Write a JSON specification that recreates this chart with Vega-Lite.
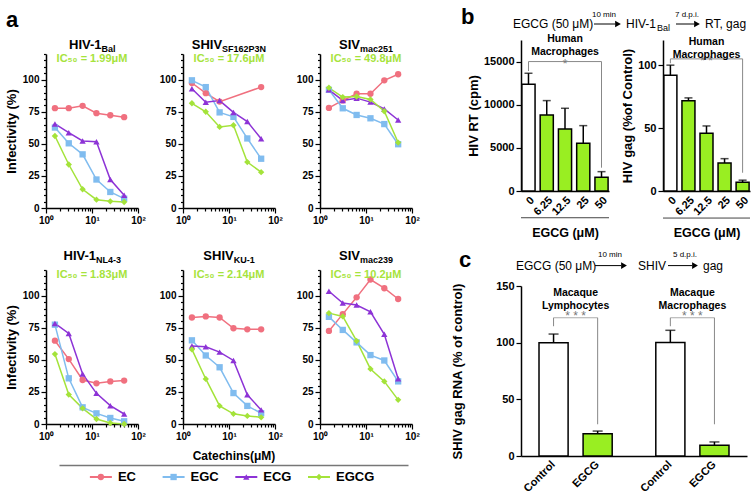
{
"$schema":"https://vega.github.io/schema/vega-lite/v6.json",
"padding":{"left":5,"top":5,"right":1,"bottom":2},
"background":"white",
"config":{
 "font":"Liberation Sans",
 "view":{"stroke":null},
 "axis":{"grid":false,"domainColor":"#000","tickColor":"#000","labelColor":"#000","titleColor":"#000","labelFontWeight":"bold","titleFontWeight":"bold","labelFontSize":10,"titleFontSize":13,"domainWidth":1.5,"tickWidth":1.2,"labelFlush":false,"labelOverlap":false,"titlePadding":4,"labelPadding":2},
 "title":{"font":"Liberation Sans","color":"#000"}
},
"datasets":{
 "curves":[
  {"virus":"HIV-1Bal","catechin":"EC","conc":1.5625,"inf":77.8},{"virus":"HIV-1Bal","catechin":"EC","conc":3.125,"inf":77.8},{"virus":"HIV-1Bal","catechin":"EC","conc":6.25,"inf":79.6},{"virus":"HIV-1Bal","catechin":"EC","conc":12.5,"inf":73.9},{"virus":"HIV-1Bal","catechin":"EC","conc":25,"inf":72.3},{"virus":"HIV-1Bal","catechin":"EC","conc":50,"inf":70.8},
  {"virus":"HIV-1Bal","catechin":"EGC","conc":1.5625,"inf":62.7},{"virus":"HIV-1Bal","catechin":"EGC","conc":3.125,"inf":50.4},{"virus":"HIV-1Bal","catechin":"EGC","conc":6.25,"inf":41.8},{"virus":"HIV-1Bal","catechin":"EGC","conc":12.5,"inf":22.2},{"virus":"HIV-1Bal","catechin":"EGC","conc":25,"inf":12.5},{"virus":"HIV-1Bal","catechin":"EGC","conc":50,"inf":7.3},
  {"virus":"HIV-1Bal","catechin":"ECG","conc":1.5625,"inf":65.5},{"virus":"HIV-1Bal","catechin":"ECG","conc":3.125,"inf":58.7},{"virus":"HIV-1Bal","catechin":"ECG","conc":6.25,"inf":52.2},{"virus":"HIV-1Bal","catechin":"ECG","conc":12.5,"inf":51.7},{"virus":"HIV-1Bal","catechin":"ECG","conc":25,"inf":22.2},{"virus":"HIV-1Bal","catechin":"ECG","conc":50,"inf":9.9},
  {"virus":"HIV-1Bal","catechin":"EGCG","conc":1.5625,"inf":56.1},{"virus":"HIV-1Bal","catechin":"EGCG","conc":3.125,"inf":33.9},{"virus":"HIV-1Bal","catechin":"EGCG","conc":6.25,"inf":14.6},{"virus":"HIV-1Bal","catechin":"EGCG","conc":12.5,"inf":6.5},{"virus":"HIV-1Bal","catechin":"EGCG","conc":25,"inf":5.2},{"virus":"HIV-1Bal","catechin":"EGCG","conc":50,"inf":4.7},
  {"virus":"SHIV-SF162P3N","catechin":"EC","conc":1.5625,"inf":97.4},{"virus":"SHIV-SF162P3N","catechin":"EC","conc":3.125,"inf":89.5},{"virus":"SHIV-SF162P3N","catechin":"EC","conc":6.25,"inf":82.9},{"virus":"SHIV-SF162P3N","catechin":"EC","conc":50,"inf":94.2},
  {"virus":"SHIV-SF162P3N","catechin":"EGC","conc":1.5625,"inf":99.5},{"virus":"SHIV-SF162P3N","catechin":"EGC","conc":3.125,"inf":94.2},{"virus":"SHIV-SF162P3N","catechin":"EGC","conc":6.25,"inf":74.5},{"virus":"SHIV-SF162P3N","catechin":"EGC","conc":12.5,"inf":71},{"virus":"SHIV-SF162P3N","catechin":"EGC","conc":25,"inf":54.2},{"virus":"SHIV-SF162P3N","catechin":"EGC","conc":50,"inf":38.4},
  {"virus":"SHIV-SF162P3N","catechin":"ECG","conc":1.5625,"inf":92.9},{"virus":"SHIV-SF162P3N","catechin":"ECG","conc":3.125,"inf":82.4},{"virus":"SHIV-SF162P3N","catechin":"ECG","conc":6.25,"inf":83.7},{"virus":"SHIV-SF162P3N","catechin":"ECG","conc":12.5,"inf":74.5},{"virus":"SHIV-SF162P3N","catechin":"ECG","conc":25,"inf":67.4},{"virus":"SHIV-SF162P3N","catechin":"ECG","conc":50,"inf":53.9},
  {"virus":"SHIV-SF162P3N","catechin":"EGCG","conc":1.5625,"inf":81.6},{"virus":"SHIV-SF162P3N","catechin":"EGCG","conc":3.125,"inf":75},{"virus":"SHIV-SF162P3N","catechin":"EGCG","conc":6.25,"inf":63.2},{"virus":"SHIV-SF162P3N","catechin":"EGCG","conc":12.5,"inf":64.5},{"virus":"SHIV-SF162P3N","catechin":"EGCG","conc":25,"inf":35.8},{"virus":"SHIV-SF162P3N","catechin":"EGCG","conc":50,"inf":27.9},
  {"virus":"SIVmac251","catechin":"EC","conc":1.5625,"inf":78},{"virus":"SIVmac251","catechin":"EC","conc":3.125,"inf":83.8},{"virus":"SIVmac251","catechin":"EC","conc":6.25,"inf":89},{"virus":"SIVmac251","catechin":"EC","conc":12.5,"inf":89},{"virus":"SIVmac251","catechin":"EC","conc":25,"inf":99.5},{"virus":"SIVmac251","catechin":"EC","conc":50,"inf":104.2},
  {"virus":"SIVmac251","catechin":"EGC","conc":1.5625,"inf":92.1},{"virus":"SIVmac251","catechin":"EGC","conc":3.125,"inf":77.7},{"virus":"SIVmac251","catechin":"EGC","conc":6.25,"inf":72.5},{"virus":"SIVmac251","catechin":"EGC","conc":12.5,"inf":69.9},{"virus":"SIVmac251","catechin":"EGC","conc":25,"inf":65.4},{"virus":"SIVmac251","catechin":"EGC","conc":50,"inf":49.7},
  {"virus":"SIVmac251","catechin":"ECG","conc":1.5625,"inf":92.1},{"virus":"SIVmac251","catechin":"ECG","conc":3.125,"inf":83.8},{"virus":"SIVmac251","catechin":"ECG","conc":6.25,"inf":85.6},{"virus":"SIVmac251","catechin":"ECG","conc":12.5,"inf":82.5},{"virus":"SIVmac251","catechin":"ECG","conc":25,"inf":77.2},{"virus":"SIVmac251","catechin":"ECG","conc":50,"inf":68.6},
  {"virus":"SIVmac251","catechin":"EGCG","conc":1.5625,"inf":93.7},{"virus":"SIVmac251","catechin":"EGCG","conc":3.125,"inf":86.4},{"virus":"SIVmac251","catechin":"EGCG","conc":6.25,"inf":86.9},{"virus":"SIVmac251","catechin":"EGCG","conc":12.5,"inf":84.6},{"virus":"SIVmac251","catechin":"EGCG","conc":25,"inf":75.4},{"virus":"SIVmac251","catechin":"EGCG","conc":50,"inf":51},
  {"virus":"HIV-1NL4-3","catechin":"EC","conc":1.5625,"inf":64.9},{"virus":"HIV-1NL4-3","catechin":"EC","conc":3.125,"inf":50.6},{"virus":"HIV-1NL4-3","catechin":"EC","conc":6.25,"inf":34.3},{"virus":"HIV-1NL4-3","catechin":"EC","conc":12.5,"inf":31.7},{"virus":"HIV-1NL4-3","catechin":"EC","conc":25,"inf":33.2},{"virus":"HIV-1NL4-3","catechin":"EC","conc":50,"inf":33.8},
  {"virus":"HIV-1NL4-3","catechin":"EGC","conc":1.5625,"inf":77.4},{"virus":"HIV-1NL4-3","catechin":"EGC","conc":3.125,"inf":35.6},{"virus":"HIV-1NL4-3","catechin":"EGC","conc":6.25,"inf":13},{"virus":"HIV-1NL4-3","catechin":"EGC","conc":12.5,"inf":8.3},{"virus":"HIV-1NL4-3","catechin":"EGC","conc":25,"inf":4.7},{"virus":"HIV-1NL4-3","catechin":"EGC","conc":50,"inf":2.1},
  {"virus":"HIV-1NL4-3","catechin":"ECG","conc":1.5625,"inf":78.4},{"virus":"HIV-1NL4-3","catechin":"ECG","conc":3.125,"inf":70.6},{"virus":"HIV-1NL4-3","catechin":"ECG","conc":6.25,"inf":39},{"virus":"HIV-1NL4-3","catechin":"ECG","conc":12.5,"inf":23.9},{"virus":"HIV-1NL4-3","catechin":"ECG","conc":25,"inf":14.3},{"virus":"HIV-1NL4-3","catechin":"ECG","conc":50,"inf":7.8},
  {"virus":"HIV-1NL4-3","catechin":"EGCG","conc":1.5625,"inf":54.5},{"virus":"HIV-1NL4-3","catechin":"EGCG","conc":3.125,"inf":22.9},{"virus":"HIV-1NL4-3","catechin":"EGCG","conc":6.25,"inf":12.2},{"virus":"HIV-1NL4-3","catechin":"EGCG","conc":12.5,"inf":3.9},{"virus":"HIV-1NL4-3","catechin":"EGCG","conc":25,"inf":0.8},{"virus":"HIV-1NL4-3","catechin":"EGCG","conc":50,"inf":0},
  {"virus":"SHIV-KU-1","catechin":"EC","conc":1.5625,"inf":83},{"virus":"SHIV-KU-1","catechin":"EC","conc":3.125,"inf":83.8},{"virus":"SHIV-KU-1","catechin":"EC","conc":6.25,"inf":83},{"virus":"SHIV-KU-1","catechin":"EC","conc":12.5,"inf":74.6},{"virus":"SHIV-KU-1","catechin":"EC","conc":25,"inf":73.8},{"virus":"SHIV-KU-1","catechin":"EC","conc":50,"inf":73.8},
  {"virus":"SHIV-KU-1","catechin":"EGC","conc":1.5625,"inf":65.2},{"virus":"SHIV-KU-1","catechin":"EGC","conc":3.125,"inf":53.4},{"virus":"SHIV-KU-1","catechin":"EGC","conc":6.25,"inf":44.2},{"virus":"SHIV-KU-1","catechin":"EGC","conc":12.5,"inf":24.1},{"virus":"SHIV-KU-1","catechin":"EGC","conc":25,"inf":14.1},{"virus":"SHIV-KU-1","catechin":"EGC","conc":50,"inf":8.4},
  {"virus":"SHIV-KU-1","catechin":"ECG","conc":1.5625,"inf":60.7},{"virus":"SHIV-KU-1","catechin":"ECG","conc":3.125,"inf":60.2},{"virus":"SHIV-KU-1","catechin":"ECG","conc":6.25,"inf":56},{"virus":"SHIV-KU-1","catechin":"ECG","conc":12.5,"inf":49.5},{"virus":"SHIV-KU-1","catechin":"ECG","conc":25,"inf":22.8},{"virus":"SHIV-KU-1","catechin":"ECG","conc":50,"inf":11},
  {"virus":"SHIV-KU-1","catechin":"EGCG","conc":1.5625,"inf":58.1},{"virus":"SHIV-KU-1","catechin":"EGCG","conc":3.125,"inf":35.1},{"virus":"SHIV-KU-1","catechin":"EGCG","conc":6.25,"inf":14.1},{"virus":"SHIV-KU-1","catechin":"EGCG","conc":12.5,"inf":7.9},{"virus":"SHIV-KU-1","catechin":"EGCG","conc":25,"inf":6.3},{"virus":"SHIV-KU-1","catechin":"EGCG","conc":50,"inf":5.2},
  {"virus":"SIVmac239","catechin":"EC","conc":1.5625,"inf":72.5},{"virus":"SIVmac239","catechin":"EC","conc":3.125,"inf":85.6},{"virus":"SIVmac239","catechin":"EC","conc":6.25,"inf":98.7},{"virus":"SIVmac239","catechin":"EC","conc":12.5,"inf":112.6},{"virus":"SIVmac239","catechin":"EC","conc":25,"inf":105.8},{"virus":"SIVmac239","catechin":"EC","conc":50,"inf":97.4},
  {"virus":"SIVmac239","catechin":"EGC","conc":1.5625,"inf":83.5},{"virus":"SIVmac239","catechin":"EGC","conc":3.125,"inf":73.3},{"virus":"SIVmac239","catechin":"EGC","conc":6.25,"inf":63.6},{"virus":"SIVmac239","catechin":"EGC","conc":12.5,"inf":53.7},{"virus":"SIVmac239","catechin":"EGC","conc":25,"inf":49.5},{"virus":"SIVmac239","catechin":"EGC","conc":50,"inf":33.2},
  {"virus":"SIVmac239","catechin":"ECG","conc":1.5625,"inf":103.4},{"virus":"SIVmac239","catechin":"ECG","conc":3.125,"inf":94.2},{"virus":"SIVmac239","catechin":"ECG","conc":6.25,"inf":92.7},{"virus":"SIVmac239","catechin":"ECG","conc":12.5,"inf":87.4},{"virus":"SIVmac239","catechin":"ECG","conc":25,"inf":69.9},{"virus":"SIVmac239","catechin":"ECG","conc":50,"inf":35.3},
  {"virus":"SIVmac239","catechin":"EGCG","conc":1.5625,"inf":86.4},{"virus":"SIVmac239","catechin":"EGCG","conc":3.125,"inf":83.8},{"virus":"SIVmac239","catechin":"EGCG","conc":6.25,"inf":64.7},{"virus":"SIVmac239","catechin":"EGCG","conc":12.5,"inf":42.9},{"virus":"SIVmac239","catechin":"EGCG","conc":25,"inf":33.2},{"virus":"SIVmac239","catechin":"EGCG","conc":50,"inf":18.8}
 ],
 "legend":[{"catechin":"EC"},{"catechin":"EGC"},{"catechin":"ECG"},{"catechin":"EGCG"}],
 "rt":[{"dose":"0","mean":12370,"upper":13645},{"dose":"6.25","mean":8813,"upper":10476},{"dose":"12.5","mean":7190,"upper":9586},{"dose":"25","mean":5528,"upper":7576},{"dose":"50","mean":1585,"upper":2242}],
 "gag":[{"dose":"0","mean":92,"upper":100},{"dose":"6.25","mean":71.8,"upper":74},{"dose":"12.5","mean":45.8,"upper":51.7},{"dose":"25","mean":22.3,"upper":25.7},{"dose":"50","mean":7,"upper":8.6}],
 "shiv":[{"group":"Lymphocytes","treatment":"Control","mean":100,"upper":107.6},{"group":"Lymphocytes","treatment":"EGCG","mean":19.7,"upper":22},{"group":"Macrophages","treatment":"Control","mean":100.2,"upper":110.9},{"group":"Macrophages","treatment":"EGCG","mean":9.4,"upper":12.4}]
},
"spacing":31,
"hconcat":[
 {
  "spacing":8,
  "vconcat":[
   {"spacing":8,"vconcat":[
    {"width":20,"height":22,"data":{"values":[{}]},"mark":{"type":"text","fontSize":22,"fontWeight":"bold","align":"center","baseline":"middle","color":"#000"},
     "encoding":{"x":{"datum":-34,"type":"quantitative","scale":{"domain":[0,20],"nice":false,"zero":false},"axis":null},"y":{"datum":0.5,"type":"quantitative","scale":{"domain":[0,1],"nice":false},"axis":null},"text":{"value":"a"}}},
    {"spacing":24,"vconcat":[
    {"spacing":13,"hconcat":[
     {"width":92,"height":154,"resolve":{"scale":{"y":"independent"},"axis":{"y":"independent"}},
      "layer":[
       {"data":{"name":"curves"},"transform":[{"filter":"datum.virus=='HIV-1Bal'"}],"mark":{"type":"line","strokeWidth":1.5},"encoding":{
        "x":{"field":"conc","type":"quantitative","title":null,"scale":{"type":"log","domain":[1,100],"nice":false},"axis":{"values":[1,2,3,4,5,6,7,8,9,10,20,30,40,50,60,70,80,90,100],"labelOverlap":false,"labelExpr":"datum.value==1?'10⁰':(datum.value==10?'10¹':(datum.value==100?'10²':''))","tickSize":{"condition":{"test":"datum.value==1||datum.value==10||datum.value==100","value":5},"value":3}}},
        "y":{"field":"inf","type":"quantitative","title":"Infectivity (%)","scale":{"domain":[0,120],"nice":false},"axis":{"values":[0,5,10,15,20,25,30,35,40,45,50,55,60,65,70,75,80,85,90,95,100,105,110,115,120],"labelOverlap":false,"labelExpr":"datum.value%25==0&&datum.value<=100?datum.label:''","tickSize":{"condition":{"test":"datum.value%25==0","value":5},"value":2.5}}},
        "color":{"field":"catechin","type":"nominal","scale":{"domain":["EC","EGC","ECG","EGCG"],"range":["#f0707f","#80bcef","#8d33d6","#a4e33a"]},"legend":null}}},
       {"data":{"name":"curves"},"transform":[{"filter":"datum.virus=='HIV-1Bal'"}],"mark":{"type":"point","filled":true,"size":40,"opacity":1},"encoding":{"x":{"field":"conc","type":"quantitative","title":null},"y":{"field":"inf","type":"quantitative","scale":{"domain":[0,120],"nice":false},"axis":null},"color":{"field":"catechin","type":"nominal","legend":null},"shape":{"field":"catechin","type":"nominal","scale":{"domain":["EC","EGC","ECG","EGCG"],"range":["circle","square","triangle-up","diamond"]},"legend":null}}},
       {"data":{"values":[{}]},"mark":{"type":"text","fontSize":13,"fontWeight":"bold","align":"right","baseline":"middle","dx":9.6,"color":"#000"},"encoding":{"x":{"datum":10},"y":{"datum":127,"type":"quantitative","scale":{"domain":[0,120],"nice":false},"axis":null},"text":{"value":"HIV-1"}}},
       {"data":{"values":[{}]},"mark":{"type":"text","fontSize":9,"fontWeight":"bold","align":"left","baseline":"middle","dx":9.6,"dy":4,"color":"#000"},"encoding":{"x":{"datum":10},"y":{"datum":127,"type":"quantitative","scale":{"domain":[0,120],"nice":false},"axis":null},"text":{"value":"Bal"}}},
       {"data":{"values":[{}]},"mark":{"type":"text","fontSize":11,"fontWeight":"bold","align":"center","baseline":"middle","color":"#a6e33c"},"encoding":{"x":{"datum":10},"y":{"datum":116,"type":"quantitative","scale":{"domain":[0,120],"nice":false},"axis":null},"text":{"value":"IC₅₀ = 1.99μM"}}}
      ]},
     {"width":92,"height":154,"resolve":{"scale":{"y":"independent"},"axis":{"y":"independent"}},
      "layer":[
       {"data":{"name":"curves"},"transform":[{"filter":"datum.virus=='SHIV-SF162P3N'"}],"mark":{"type":"line","strokeWidth":1.5},"encoding":{
        "x":{"field":"conc","type":"quantitative","title":null,"scale":{"type":"log","domain":[1,100],"nice":false},"axis":{"values":[1,2,3,4,5,6,7,8,9,10,20,30,40,50,60,70,80,90,100],"labelOverlap":false,"labelExpr":"datum.value==1?'10⁰':(datum.value==10?'10¹':(datum.value==100?'10²':''))","tickSize":{"condition":{"test":"datum.value==1||datum.value==10||datum.value==100","value":5},"value":3}}},
        "y":{"field":"inf","type":"quantitative","title":null,"scale":{"domain":[0,120],"nice":false},"axis":{"values":[0,5,10,15,20,25,30,35,40,45,50,55,60,65,70,75,80,85,90,95,100,105,110,115,120],"labelOverlap":false,"labelExpr":"datum.value%25==0&&datum.value<=100?datum.label:''","tickSize":{"condition":{"test":"datum.value%25==0","value":5},"value":2.5}}},
        "color":{"field":"catechin","type":"nominal","scale":{"domain":["EC","EGC","ECG","EGCG"],"range":["#f0707f","#80bcef","#8d33d6","#a4e33a"]},"legend":null}}},
       {"data":{"name":"curves"},"transform":[{"filter":"datum.virus=='SHIV-SF162P3N'"}],"mark":{"type":"point","filled":true,"size":40,"opacity":1},"encoding":{"x":{"field":"conc","type":"quantitative","title":null},"y":{"field":"inf","type":"quantitative","scale":{"domain":[0,120],"nice":false},"axis":null},"color":{"field":"catechin","type":"nominal","legend":null},"shape":{"field":"catechin","type":"nominal","scale":{"domain":["EC","EGC","ECG","EGCG"],"range":["circle","square","triangle-up","diamond"]},"legend":null}}},
       {"data":{"values":[{}]},"mark":{"type":"text","fontSize":13,"fontWeight":"bold","align":"right","baseline":"middle","dx":-6.9,"color":"#000"},"encoding":{"x":{"datum":10},"y":{"datum":127,"type":"quantitative","scale":{"domain":[0,120],"nice":false},"axis":null},"text":{"value":"SHIV"}}},
       {"data":{"values":[{}]},"mark":{"type":"text","fontSize":9,"fontWeight":"bold","align":"left","baseline":"middle","dx":-6.9,"dy":4,"color":"#000"},"encoding":{"x":{"datum":10},"y":{"datum":127,"type":"quantitative","scale":{"domain":[0,120],"nice":false},"axis":null},"text":{"value":"SF162P3N"}}},
       {"data":{"values":[{}]},"mark":{"type":"text","fontSize":11,"fontWeight":"bold","align":"center","baseline":"middle","color":"#a6e33c"},"encoding":{"x":{"datum":10},"y":{"datum":116,"type":"quantitative","scale":{"domain":[0,120],"nice":false},"axis":null},"text":{"value":"IC₅₀ = 17.6μM"}}}
      ]},
     {"width":92,"height":154,"resolve":{"scale":{"y":"independent"},"axis":{"y":"independent"}},
      "layer":[
       {"data":{"name":"curves"},"transform":[{"filter":"datum.virus=='SIVmac251'"}],"mark":{"type":"line","strokeWidth":1.5},"encoding":{
        "x":{"field":"conc","type":"quantitative","title":null,"scale":{"type":"log","domain":[1,100],"nice":false},"axis":{"values":[1,2,3,4,5,6,7,8,9,10,20,30,40,50,60,70,80,90,100],"labelOverlap":false,"labelExpr":"datum.value==1?'10⁰':(datum.value==10?'10¹':(datum.value==100?'10²':''))","tickSize":{"condition":{"test":"datum.value==1||datum.value==10||datum.value==100","value":5},"value":3}}},
        "y":{"field":"inf","type":"quantitative","title":null,"scale":{"domain":[0,120],"nice":false},"axis":{"values":[0,5,10,15,20,25,30,35,40,45,50,55,60,65,70,75,80,85,90,95,100,105,110,115,120],"labelOverlap":false,"labelExpr":"datum.value%25==0&&datum.value<=100?datum.label:''","tickSize":{"condition":{"test":"datum.value%25==0","value":5},"value":2.5}}},
        "color":{"field":"catechin","type":"nominal","scale":{"domain":["EC","EGC","ECG","EGCG"],"range":["#f0707f","#80bcef","#8d33d6","#a4e33a"]},"legend":null}}},
       {"data":{"name":"curves"},"transform":[{"filter":"datum.virus=='SIVmac251'"}],"mark":{"type":"point","filled":true,"size":40,"opacity":1},"encoding":{"x":{"field":"conc","type":"quantitative","title":null},"y":{"field":"inf","type":"quantitative","scale":{"domain":[0,120],"nice":false},"axis":null},"color":{"field":"catechin","type":"nominal","legend":null},"shape":{"field":"catechin","type":"nominal","scale":{"domain":["EC","EGC","ECG","EGCG"],"range":["circle","square","triangle-up","diamond"]},"legend":null}}},
       {"data":{"values":[{}]},"mark":{"type":"text","fontSize":13,"fontWeight":"bold","align":"right","baseline":"middle","dx":-6,"color":"#000"},"encoding":{"x":{"datum":10},"y":{"datum":127,"type":"quantitative","scale":{"domain":[0,120],"nice":false},"axis":null},"text":{"value":"SIV"}}},
       {"data":{"values":[{}]},"mark":{"type":"text","fontSize":9,"fontWeight":"bold","align":"left","baseline":"middle","dx":-6,"dy":4,"color":"#000"},"encoding":{"x":{"datum":10},"y":{"datum":127,"type":"quantitative","scale":{"domain":[0,120],"nice":false},"axis":null},"text":{"value":"mac251"}}},
       {"data":{"values":[{}]},"mark":{"type":"text","fontSize":11,"fontWeight":"bold","align":"center","baseline":"middle","color":"#a6e33c"},"encoding":{"x":{"datum":10},"y":{"datum":116,"type":"quantitative","scale":{"domain":[0,120],"nice":false},"axis":null},"text":{"value":"IC₅₀ = 49.8μM"}}}
      ]}
    ]},
    {"spacing":13,"hconcat":[
     {"width":92,"height":154,"resolve":{"scale":{"y":"independent"},"axis":{"y":"independent"}},
      "layer":[
       {"data":{"name":"curves"},"transform":[{"filter":"datum.virus=='HIV-1NL4-3'"}],"mark":{"type":"line","strokeWidth":1.5},"encoding":{
        "x":{"field":"conc","type":"quantitative","title":null,"scale":{"type":"log","domain":[1,100],"nice":false},"axis":{"values":[1,2,3,4,5,6,7,8,9,10,20,30,40,50,60,70,80,90,100],"labelOverlap":false,"labelExpr":"datum.value==1?'10⁰':(datum.value==10?'10¹':(datum.value==100?'10²':''))","tickSize":{"condition":{"test":"datum.value==1||datum.value==10||datum.value==100","value":5},"value":3}}},
        "y":{"field":"inf","type":"quantitative","title":"Infectivity (%)","scale":{"domain":[0,120],"nice":false},"axis":{"values":[0,5,10,15,20,25,30,35,40,45,50,55,60,65,70,75,80,85,90,95,100,105,110,115,120],"labelOverlap":false,"labelExpr":"datum.value%25==0&&datum.value<=100?datum.label:''","tickSize":{"condition":{"test":"datum.value%25==0","value":5},"value":2.5}}},
        "color":{"field":"catechin","type":"nominal","scale":{"domain":["EC","EGC","ECG","EGCG"],"range":["#f0707f","#80bcef","#8d33d6","#a4e33a"]},"legend":null}}},
       {"data":{"name":"curves"},"transform":[{"filter":"datum.virus=='HIV-1NL4-3'"}],"mark":{"type":"point","filled":true,"size":40,"opacity":1},"encoding":{"x":{"field":"conc","type":"quantitative","title":null},"y":{"field":"inf","type":"quantitative","scale":{"domain":[0,120],"nice":false},"axis":null},"color":{"field":"catechin","type":"nominal","legend":null},"shape":{"field":"catechin","type":"nominal","scale":{"domain":["EC","EGC","ECG","EGCG"],"range":["circle","square","triangle-up","diamond"]},"legend":null}}},
       {"data":{"values":[{}]},"mark":{"type":"text","fontSize":13,"fontWeight":"bold","align":"right","baseline":"middle","dx":4.1,"color":"#000"},"encoding":{"x":{"datum":10},"y":{"datum":131,"type":"quantitative","scale":{"domain":[0,120],"nice":false},"axis":null},"text":{"value":"HIV-1"}}},
       {"data":{"values":[{}]},"mark":{"type":"text","fontSize":9,"fontWeight":"bold","align":"left","baseline":"middle","dx":4.1,"dy":4,"color":"#000"},"encoding":{"x":{"datum":10},"y":{"datum":131,"type":"quantitative","scale":{"domain":[0,120],"nice":false},"axis":null},"text":{"value":"NL4-3"}}},
       {"data":{"values":[{}]},"mark":{"type":"text","fontSize":11,"fontWeight":"bold","align":"center","baseline":"middle","color":"#a6e33c"},"encoding":{"x":{"datum":10},"y":{"datum":116,"type":"quantitative","scale":{"domain":[0,120],"nice":false},"axis":null},"text":{"value":"IC₅₀ = 1.83μM"}}}
      ]},
     {"width":92,"height":154,"resolve":{"scale":{"y":"independent"},"axis":{"y":"independent"}},
      "layer":[
       {"data":{"name":"curves"},"transform":[{"filter":"datum.virus=='SHIV-KU-1'"}],"mark":{"type":"line","strokeWidth":1.5},"encoding":{
        "x":{"field":"conc","type":"quantitative","title":null,"scale":{"type":"log","domain":[1,100],"nice":false},"axis":{"values":[1,2,3,4,5,6,7,8,9,10,20,30,40,50,60,70,80,90,100],"labelOverlap":false,"labelExpr":"datum.value==1?'10⁰':(datum.value==10?'10¹':(datum.value==100?'10²':''))","tickSize":{"condition":{"test":"datum.value==1||datum.value==10||datum.value==100","value":5},"value":3}}},
        "y":{"field":"inf","type":"quantitative","title":null,"scale":{"domain":[0,120],"nice":false},"axis":{"values":[0,5,10,15,20,25,30,35,40,45,50,55,60,65,70,75,80,85,90,95,100,105,110,115,120],"labelOverlap":false,"labelExpr":"datum.value%25==0&&datum.value<=100?datum.label:''","tickSize":{"condition":{"test":"datum.value%25==0","value":5},"value":2.5}}},
        "color":{"field":"catechin","type":"nominal","scale":{"domain":["EC","EGC","ECG","EGCG"],"range":["#f0707f","#80bcef","#8d33d6","#a4e33a"]},"legend":null}}},
       {"data":{"name":"curves"},"transform":[{"filter":"datum.virus=='SHIV-KU-1'"}],"mark":{"type":"point","filled":true,"size":40,"opacity":1},"encoding":{"x":{"field":"conc","type":"quantitative","title":null},"y":{"field":"inf","type":"quantitative","scale":{"domain":[0,120],"nice":false},"axis":null},"color":{"field":"catechin","type":"nominal","legend":null},"shape":{"field":"catechin","type":"nominal","scale":{"domain":["EC","EGC","ECG","EGCG"],"range":["circle","square","triangle-up","diamond"]},"legend":null}}},
       {"data":{"values":[{}]},"mark":{"type":"text","fontSize":13,"fontWeight":"bold","align":"right","baseline":"middle","dx":4.7,"color":"#000"},"encoding":{"x":{"datum":10},"y":{"datum":131,"type":"quantitative","scale":{"domain":[0,120],"nice":false},"axis":null},"text":{"value":"SHIV"}}},
       {"data":{"values":[{}]},"mark":{"type":"text","fontSize":9,"fontWeight":"bold","align":"left","baseline":"middle","dx":4.7,"dy":4,"color":"#000"},"encoding":{"x":{"datum":10},"y":{"datum":131,"type":"quantitative","scale":{"domain":[0,120],"nice":false},"axis":null},"text":{"value":"KU-1"}}},
       {"data":{"values":[{}]},"mark":{"type":"text","fontSize":11,"fontWeight":"bold","align":"center","baseline":"middle","color":"#a6e33c"},"encoding":{"x":{"datum":10},"y":{"datum":116,"type":"quantitative","scale":{"domain":[0,120],"nice":false},"axis":null},"text":{"value":"IC₅₀ = 2.14μM"}}}
      ]},
     {"width":92,"height":154,"resolve":{"scale":{"y":"independent"},"axis":{"y":"independent"}},
      "layer":[
       {"data":{"name":"curves"},"transform":[{"filter":"datum.virus=='SIVmac239'"}],"mark":{"type":"line","strokeWidth":1.5},"encoding":{
        "x":{"field":"conc","type":"quantitative","title":null,"scale":{"type":"log","domain":[1,100],"nice":false},"axis":{"values":[1,2,3,4,5,6,7,8,9,10,20,30,40,50,60,70,80,90,100],"labelOverlap":false,"labelExpr":"datum.value==1?'10⁰':(datum.value==10?'10¹':(datum.value==100?'10²':''))","tickSize":{"condition":{"test":"datum.value==1||datum.value==10||datum.value==100","value":5},"value":3}}},
        "y":{"field":"inf","type":"quantitative","title":null,"scale":{"domain":[0,120],"nice":false},"axis":{"values":[0,5,10,15,20,25,30,35,40,45,50,55,60,65,70,75,80,85,90,95,100,105,110,115,120],"labelOverlap":false,"labelExpr":"datum.value%25==0&&datum.value<=100?datum.label:''","tickSize":{"condition":{"test":"datum.value%25==0","value":5},"value":2.5}}},
        "color":{"field":"catechin","type":"nominal","scale":{"domain":["EC","EGC","ECG","EGCG"],"range":["#f0707f","#80bcef","#8d33d6","#a4e33a"]},"legend":null}}},
       {"data":{"name":"curves"},"transform":[{"filter":"datum.virus=='SIVmac239'"}],"mark":{"type":"point","filled":true,"size":40,"opacity":1},"encoding":{"x":{"field":"conc","type":"quantitative","title":null},"y":{"field":"inf","type":"quantitative","scale":{"domain":[0,120],"nice":false},"axis":null},"color":{"field":"catechin","type":"nominal","legend":null},"shape":{"field":"catechin","type":"nominal","scale":{"domain":["EC","EGC","ECG","EGCG"],"range":["circle","square","triangle-up","diamond"]},"legend":null}}},
       {"data":{"values":[{}]},"mark":{"type":"text","fontSize":13,"fontWeight":"bold","align":"right","baseline":"middle","dx":-6,"color":"#000"},"encoding":{"x":{"datum":10},"y":{"datum":131,"type":"quantitative","scale":{"domain":[0,120],"nice":false},"axis":null},"text":{"value":"SIV"}}},
       {"data":{"values":[{}]},"mark":{"type":"text","fontSize":9,"fontWeight":"bold","align":"left","baseline":"middle","dx":-6,"dy":4,"color":"#000"},"encoding":{"x":{"datum":10},"y":{"datum":131,"type":"quantitative","scale":{"domain":[0,120],"nice":false},"axis":null},"text":{"value":"mac239"}}},
       {"data":{"values":[{}]},"mark":{"type":"text","fontSize":11,"fontWeight":"bold","align":"center","baseline":"middle","color":"#a6e33c"},"encoding":{"x":{"datum":10},"y":{"datum":116,"type":"quantitative","scale":{"domain":[0,120],"nice":false},"axis":null},"text":{"value":"IC₅₀ = 10.2μM"}}}
      ]}
    ]}
    ]}
   ]},
   {"spacing":12,"hconcat":[
    {"width":1,"height":24,"data":{"values":[]},"mark":{"type":"point","opacity":0}},
    {"width":349,"height":24,
     "data":{"name":"legend"},
     "encoding":{"x":{"field":"catechin","type":"nominal","sort":["EC","EGC","ECG","EGCG"],"scale":{"type":"point","padding":0.9,"align":0.32},"axis":{"orient":"top","title":"Catechins(μM)","labels":false,"ticks":false,"domainColor":"#777","domainWidth":1.5,"titleFontSize":12,"titlePadding":3}}},
     "layer":[
      {"mark":{"type":"point","shape":"M-1,0L1,0","size":484,"strokeWidth":2,"filled":false,"opacity":1},"encoding":{"color":{"field":"catechin","type":"nominal","legend":null}}},
      {"mark":{"type":"point","filled":true,"size":40,"opacity":1},"encoding":{"color":{"field":"catechin","type":"nominal","legend":null},"shape":{"field":"catechin","type":"nominal","legend":null}}},
      {"mark":{"type":"text","align":"left","baseline":"middle","dx":17,"fontSize":13,"fontWeight":"bold","color":"#000"},"encoding":{"text":{"field":"catechin"}}}
     ]}
   ]}
  ]
 },
 {
  "spacing":8,
  "vconcat":[
   {"spacing":1,"vconcat":[
    {"width":230,"height":24,"data":{"values":[{}]},
     "layer":[
      {"mark":{"type":"text","fontSize":22,"fontWeight":"bold","align":"left","baseline":"middle","color":"#000"},"encoding":{"x":{"datum":-60,"type":"quantitative","scale":{"domain":[0,230],"nice":false,"zero":false},"axis":null},"y":{"datum":0.667,"type":"quantitative","scale":{"domain":[0,1],"nice":false},"axis":null},"text":{"value":"b"}}},
      {"mark":{"type":"text","fontSize":12,"align":"left","baseline":"middle","color":"#000"},"encoding":{"x":{"datum":-8,"axis":null},"y":{"datum":0.375,"axis":null},"text":{"value":"EGCG (50 μM)"}}},
      {"mark":{"type":"rule","color":"#000","strokeWidth":1},"encoding":{"x":{"datum":73,"axis":null},"x2":{"datum":94},"y":{"datum":0.375,"axis":null}}},
      {"mark":{"type":"point","shape":"triangle-right","filled":true,"size":45,"color":"#000","opacity":1},"encoding":{"x":{"datum":97,"axis":null},"y":{"datum":0.375,"axis":null}}},
      {"mark":{"type":"text","fontSize":8,"align":"center","baseline":"middle","color":"#000"},"encoding":{"x":{"datum":83,"axis":null},"y":{"datum":0.76,"axis":null},"text":{"value":"10 min"}}},
      {"mark":{"type":"text","fontSize":12,"align":"left","baseline":"middle","color":"#000"},"encoding":{"x":{"datum":105,"axis":null},"y":{"datum":0.375,"axis":null},"text":{"value":"HIV-1"}}},
      {"mark":{"type":"text","fontSize":9,"align":"left","baseline":"middle","dy":4,"color":"#000"},"encoding":{"x":{"datum":136,"axis":null},"y":{"datum":0.375,"axis":null},"text":{"value":"Bal"}}},
      {"mark":{"type":"rule","color":"#000","strokeWidth":1},"encoding":{"x":{"datum":155,"axis":null},"x2":{"datum":173},"y":{"datum":0.375,"axis":null}}},
      {"mark":{"type":"point","shape":"triangle-right","filled":true,"size":45,"color":"#000","opacity":1},"encoding":{"x":{"datum":176,"axis":null},"y":{"datum":0.375,"axis":null}}},
      {"mark":{"type":"text","fontSize":8,"align":"center","baseline":"middle","color":"#000"},"encoding":{"x":{"datum":166,"axis":null},"y":{"datum":0.76,"axis":null},"text":{"value":"7 d.p.i."}}},
      {"mark":{"type":"text","fontSize":12,"align":"left","baseline":"middle","color":"#000"},"encoding":{"x":{"datum":184,"axis":null},"y":{"datum":0.375,"axis":null},"text":{"value":"RT, gag"}}}
     ]},
    {"spacing":11,"hconcat":[
     {"width":88,"height":151,
      "layer":[
       {"data":{"name":"rt"},"mark":{"type":"bar","stroke":"#000","strokeWidth":1.5},"encoding":{
         "x":{"field":"dose","type":"ordinal","scale":{"domain":["0","6.25","12.5","25","50"],"paddingInner":0.28,"paddingOuter":0.05},"axis":{"labelAngle":-45,"labelFontSize":11,"ticks":false,"title":"EGCG (μM)","titleFontSize":12.5,"titlePadding":10,"labelPadding":3}},
         "y":{"field":"mean","type":"quantitative","title":"HIV RT (cpm)","scale":{"domain":[0,17500],"nice":false},"axis":{"values":[0,5000,10000,15000],"format":"d","labelFontSize":11,"titlePadding":3,"tickSize":5}},
         "fill":{"condition":{"test":"datum.dose=='0'","value":"#ffffff"},"value":"#99ee22"}}},
       {"data":{"name":"rt"},"mark":{"type":"rule","color":"#000","strokeWidth":1.5},"encoding":{"x":{"field":"dose","type":"ordinal"},"y":{"field":"mean","type":"quantitative","title":"HIV RT (cpm)"},"y2":{"field":"upper"}}},
       {"data":{"name":"rt"},"mark":{"type":"tick","orient":"horizontal","color":"#000","thickness":1.5,"size":8},"encoding":{"x":{"field":"dose","type":"ordinal"},"y":{"field":"upper","type":"quantitative","title":"HIV RT (cpm)"}}},
       {"data":{"values":[{}]},"mark":{"type":"rule","color":"#888","strokeWidth":1},"encoding":{"x":{"datum":"0"},"x2":{"datum":"50"},"y":{"datum":15000}}},
       {"data":{"values":[{}]},"mark":{"type":"rule","color":"#888","strokeWidth":1},"encoding":{"x":{"datum":"0"},"y":{"datum":15000},"y2":{"datum":13900}}},
       {"data":{"values":[{}]},"mark":{"type":"rule","color":"#888","strokeWidth":1},"encoding":{"x":{"datum":"50"},"y":{"datum":15000},"y2":{"datum":2700}}},
       {"data":{"values":[{}]},"mark":{"type":"text","color":"#777","fontSize":12,"baseline":"middle","dy":2},"encoding":{"x":{"datum":"12.5"},"y":{"datum":15000},"text":{"value":"*"}}},
       {"data":{"values":[{}]},"mark":{"type":"text","color":"#000","fontSize":10.5,"fontWeight":"bold","baseline":"middle","lineHeight":13},"encoding":{"x":{"datum":"12.5"},"y":{"datum":17560},"text":{"value":["Human","Macrophages"]}}},
       {"data":{"values":[{}]},"mark":{"type":"rule","color":"#444","strokeWidth":1},"encoding":{"y":{"datum":-3100}}}
      ]},
     {"width":87,"height":151,
      "layer":[
       {"data":{"name":"gag"},"mark":{"type":"bar","stroke":"#000","strokeWidth":1.5},"encoding":{
         "x":{"field":"dose","type":"ordinal","scale":{"domain":["0","6.25","12.5","25","50"],"paddingInner":0.28,"paddingOuter":0.05},"axis":{"labelAngle":-45,"labelFontSize":11,"ticks":false,"title":"EGCG (μM)","titleFontSize":12.5,"titlePadding":10,"labelPadding":3}},
         "y":{"field":"mean","type":"quantitative","title":"HIV gag (%of Control)","scale":{"domain":[0,120],"nice":false},"axis":{"values":[0,50,100],"labelFontSize":11,"titlePadding":3,"tickSize":5}},
         "fill":{"condition":{"test":"datum.dose=='0'","value":"#ffffff"},"value":"#99ee22"}}},
       {"data":{"name":"gag"},"mark":{"type":"rule","color":"#000","strokeWidth":1.5},"encoding":{"x":{"field":"dose","type":"ordinal"},"y":{"field":"mean","type":"quantitative","title":"HIV gag (%of Control)"},"y2":{"field":"upper"}}},
       {"data":{"name":"gag"},"mark":{"type":"tick","orient":"horizontal","color":"#000","thickness":1.5,"size":8},"encoding":{"x":{"field":"dose","type":"ordinal"},"y":{"field":"upper","type":"quantitative","title":"HIV gag (%of Control)"}}},
       {"data":{"values":[{}]},"mark":{"type":"rule","color":"#888","strokeWidth":1},"encoding":{"x":{"datum":"0"},"x2":{"datum":"50"},"y":{"datum":105}}},
       {"data":{"values":[{}]},"mark":{"type":"rule","color":"#888","strokeWidth":1},"encoding":{"x":{"datum":"0"},"y":{"datum":105},"y2":{"datum":101.5}}},
       {"data":{"values":[{}]},"mark":{"type":"rule","color":"#888","strokeWidth":1},"encoding":{"x":{"datum":"50"},"y":{"datum":105},"y2":{"datum":14.5}}},
       {"data":{"values":[{}]},"mark":{"type":"text","color":"#777","fontSize":12,"baseline":"middle","dy":2},"encoding":{"x":{"datum":"12.5"},"y":{"datum":105},"text":{"value":"* *"}}},
       {"data":{"values":[{}]},"mark":{"type":"text","color":"#000","fontSize":10.5,"fontWeight":"bold","baseline":"middle","lineHeight":13},"encoding":{"x":{"datum":"12.5"},"y":{"datum":118.5},"text":{"value":["Human","Macrophages"]}}},
       {"data":{"values":[{}]},"mark":{"type":"rule","color":"#444","strokeWidth":1},"encoding":{"y":{"datum":-21.5}}}
      ]}
    ]}
   ]},
   {"spacing":6,"vconcat":[
    {"width":230,"height":24,"data":{"values":[{}]},
     "layer":[
      {"mark":{"type":"text","fontSize":22,"fontWeight":"bold","align":"left","baseline":"middle","color":"#000"},"encoding":{"x":{"datum":-62,"type":"quantitative","scale":{"domain":[0,230],"nice":false,"zero":false},"axis":null},"y":{"datum":0.6,"type":"quantitative","scale":{"domain":[0,1],"nice":false},"axis":null},"text":{"value":"c"}}},
      {"mark":{"type":"text","fontSize":12,"align":"left","baseline":"middle","color":"#000"},"encoding":{"x":{"datum":-5,"axis":null},"y":{"datum":0.35,"axis":null},"text":{"value":"EGCG (50 μM)"}}},
      {"mark":{"type":"rule","color":"#000","strokeWidth":1},"encoding":{"x":{"datum":74,"axis":null},"x2":{"datum":100},"y":{"datum":0.35,"axis":null}}},
      {"mark":{"type":"point","shape":"triangle-right","filled":true,"size":45,"color":"#000","opacity":1},"encoding":{"x":{"datum":103,"axis":null},"y":{"datum":0.35,"axis":null}}},
      {"mark":{"type":"text","fontSize":8,"align":"center","baseline":"middle","color":"#000"},"encoding":{"x":{"datum":89,"axis":null},"y":{"datum":0.79,"axis":null},"text":{"value":"10 min"}}},
      {"mark":{"type":"text","fontSize":12,"align":"left","baseline":"middle","color":"#000"},"encoding":{"x":{"datum":117,"axis":null},"y":{"datum":0.35,"axis":null},"text":{"value":"SHIV"}}},
      {"mark":{"type":"rule","color":"#000","strokeWidth":1},"encoding":{"x":{"datum":147,"axis":null},"x2":{"datum":171},"y":{"datum":0.35,"axis":null}}},
      {"mark":{"type":"point","shape":"triangle-right","filled":true,"size":45,"color":"#000","opacity":1},"encoding":{"x":{"datum":174,"axis":null},"y":{"datum":0.35,"axis":null}}},
      {"mark":{"type":"text","fontSize":8,"align":"center","baseline":"middle","color":"#000"},"encoding":{"x":{"datum":164,"axis":null},"y":{"datum":0.79,"axis":null},"text":{"value":"5 d.p.i."}}},
      {"mark":{"type":"text","fontSize":12,"align":"left","baseline":"middle","color":"#000"},"encoding":{"x":{"datum":182,"axis":null},"y":{"datum":0.35,"axis":null},"text":{"value":"gag"}}}
     ]},
    {"width":226,"height":170,
     "layer":[
      {"data":{"name":"shiv"},"mark":{"type":"bar","stroke":"#000","strokeWidth":1.5},"encoding":{
        "x":{"field":"group","type":"nominal","scale":{"domain":["Lymphocytes","Macrophages"],"paddingInner":0.245,"paddingOuter":0.09},"axis":{"labels":false,"ticks":false,"title":null}},
        "xOffset":{"field":"treatment","type":"nominal","scale":{"domain":["Control","EGCG"],"paddingInner":0.34,"paddingOuter":0.17}},
        "y":{"field":"mean","type":"quantitative","title":"SHIV gag RNA (% of control)","scale":{"domain":[0,150],"nice":false},"axis":{"values":[0,50,100,150],"labelFontSize":11,"titlePadding":31,"tickSize":5}},
        "fill":{"condition":{"test":"datum.treatment=='Control'","value":"#ffffff"},"value":"#99ee22"}}},
      {"data":{"name":"shiv"},"mark":{"type":"rule","color":"#000","strokeWidth":1.5},"encoding":{"x":{"field":"group","type":"nominal","title":null},"xOffset":{"field":"treatment","type":"nominal"},"y":{"field":"mean","type":"quantitative","title":"SHIV gag RNA (% of control)"},"y2":{"field":"upper"}}},
      {"data":{"name":"shiv"},"mark":{"type":"tick","orient":"horizontal","color":"#000","thickness":1.5,"size":10},"encoding":{"x":{"field":"group","type":"nominal","title":null},"xOffset":{"field":"treatment","type":"nominal"},"y":{"field":"upper","type":"quantitative","title":"SHIV gag RNA (% of control)"}}},
      {"data":{"name":"shiv"},"mark":{"type":"text","angle":315,"align":"right","baseline":"middle","dx":-5,"dy":5,"fontSize":11,"fontWeight":"bold","color":"#000"},"encoding":{"x":{"field":"group","type":"nominal","title":null},"xOffset":{"field":"treatment","type":"nominal"},"y":{"datum":0},"text":{"field":"treatment"}}},
      {"data":{"values":[{}]},"mark":{"type":"rule","color":"#888","strokeWidth":1},"encoding":{"x":{"datum":"Lymphocytes"},"xOffset":{"datum":"Control"},"y":{"datum":122},"y2":{"datum":114.5}}},
      {"data":{"values":[{}]},"mark":{"type":"rule","color":"#888","strokeWidth":1},"encoding":{"x":{"datum":"Lymphocytes"},"xOffset":{"datum":"EGCG"},"y":{"datum":122},"y2":{"datum":28}}},
      {"data":{"values":[{}]},"mark":{"type":"rule","color":"#888","strokeWidth":1},"encoding":{"x":{"datum":"Macrophages"},"xOffset":{"datum":"Control"},"y":{"datum":122},"y2":{"datum":114.5}}},
      {"data":{"values":[{}]},"mark":{"type":"rule","color":"#888","strokeWidth":1},"encoding":{"x":{"datum":"Macrophages"},"xOffset":{"datum":"EGCG"},"y":{"datum":122},"y2":{"datum":28}}},
      {"data":{"values":[{}]},"mark":{"type":"tick","orient":"horizontal","color":"#888","thickness":1,"size":44},"encoding":{"x":{"datum":"Lymphocytes"},"y":{"datum":122}}},
      {"data":{"values":[{}]},"mark":{"type":"tick","orient":"horizontal","color":"#888","thickness":1,"size":44},"encoding":{"x":{"datum":"Macrophages"},"y":{"datum":122}}},
      {"data":{"values":[{}]},"mark":{"type":"text","color":"#777","fontSize":12,"baseline":"middle","dy":2},"encoding":{"x":{"datum":"Lymphocytes"},"y":{"datum":125.5},"text":{"value":"* * *"}}},
      {"data":{"values":[{}]},"mark":{"type":"text","color":"#777","fontSize":12,"baseline":"middle","dy":2},"encoding":{"x":{"datum":"Macrophages"},"y":{"datum":125.5},"text":{"value":"* * *"}}},
      {"data":{"values":[{}]},"mark":{"type":"text","color":"#000","fontSize":10.5,"fontWeight":"bold","baseline":"middle","lineHeight":13},"encoding":{"x":{"datum":"Lymphocytes"},"y":{"datum":143.8},"text":{"value":["Macaque","Lymphocytes"]}}},
      {"data":{"values":[{}]},"mark":{"type":"text","color":"#000","fontSize":10.5,"fontWeight":"bold","baseline":"middle","lineHeight":13},"encoding":{"x":{"datum":"Macrophages"},"y":{"datum":143.8},"text":{"value":["Macaque","Macrophages"]}}}
     ]}
   ]}
  ]
 }
]
}
